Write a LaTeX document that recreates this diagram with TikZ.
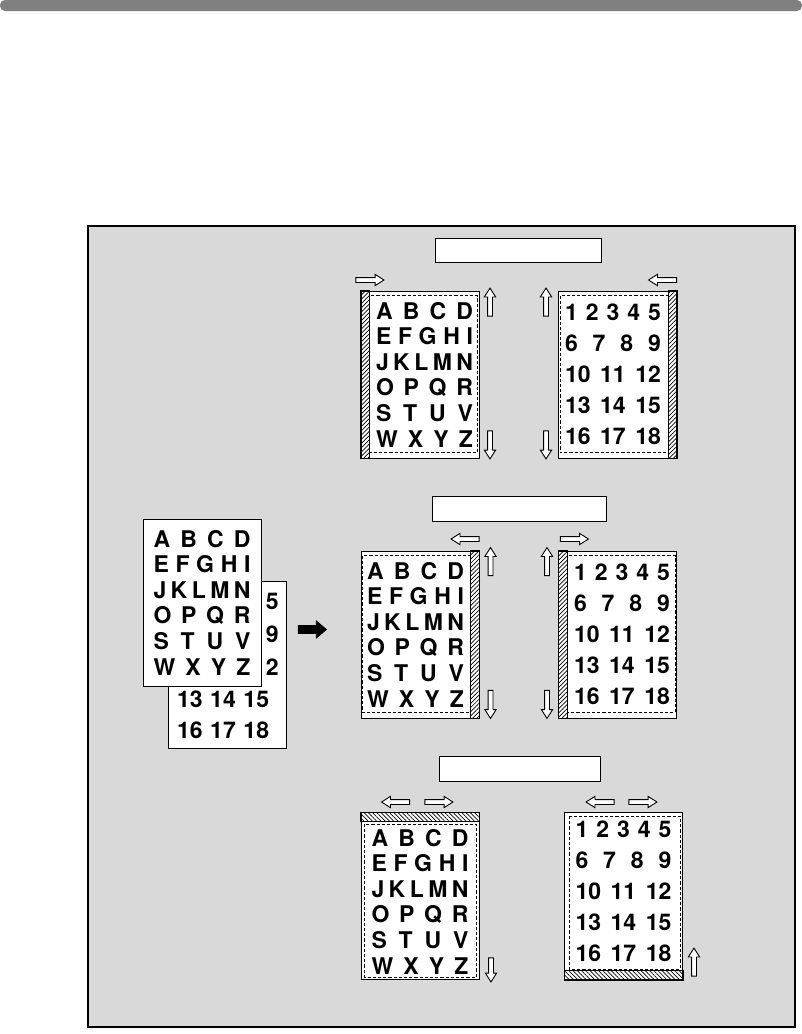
\documentclass[tikz,border=0pt]{standalone}
\usepackage{fontspec}
\setmainfont{TeX Gyre Heros}
\usetikzlibrary{shapes.arrows,patterns.meta}

\newcommand{\abcrows}{%
  \makebox[48.5pt][s]{\bfseries A B C D}\\
  \makebox[48.5pt][s]{\bfseries E F G H I}\\
  \makebox[48.5pt][s]{\bfseries J K L M N}\\
  \makebox[48.5pt][s]{\bfseries O P Q R}\\
  \makebox[48.5pt][s]{\bfseries S T U V}\\
  \makebox[48.5pt][s]{\bfseries W X Y Z}}
\newcommand{\numrows}{%
  \makebox[48pt][s]{\bfseries 1 2 3 4 5}\\
  \makebox[48pt][s]{\bfseries 6 7 8 9}\\
  \makebox[48pt][s]{\bfseries 10 11 12}\\
  \makebox[48pt][s]{\bfseries 13 14 15}\\
  \makebox[48pt][s]{\bfseries 16 17 18}}

\begin{document}
\begin{tikzpicture}[
  x=0.5pt, y=-0.5pt,
  sheet/.style={draw, fill=white, line width=0.5pt, inner sep=0pt,
                minimum width=59pt, minimum height=83.5pt},
  strip/.style={draw, line width=0.4pt,
                pattern={Lines[angle=45, distance=1.5pt, line width=0.35pt]}},
  hstrip/.style={strip,
                pattern={Lines[angle=-45, distance=1.5pt, line width=0.35pt]}},
  margin/.style={dash pattern=on 1.6pt off 1pt, line width=0.4pt},
  letters/.style={font=\fontsize{11.5}{12.8}\selectfont\bfseries, align=center, inner sep=0pt},
  digits/.style={font=\fontsize{11.5}{15.5}\selectfont\bfseries, align=center, inner sep=0pt},
  caption/.style={draw, fill=white, line width=0.5pt, minimum height=12.25pt},
  hollow/.style={single arrow, draw, fill=white, line width=0.45pt,
                 inner xsep=0pt, inner ysep=1pt, single arrow head extend=1.6pt,
                 single arrow tip angle=65, minimum height=14pt},
  goright/.style={hollow},
  goleft/.style={hollow, rotate=180},
  goup/.style={hollow, rotate=90},
  godown/.style={hollow, rotate=270}
]
\useasboundingbox (0,0) rectangle (802,1034);
\fill[black!50, rounded corners=2.5pt] (0,0) rectangle (802,11);
\draw[line width=0.7pt, fill=black!15] (88,226) rectangle (795,1027);

% empty caption boxes
\node[caption, minimum width=83pt] (capA) at (518,250.5) {};
\node[caption, minimum width=87pt] (capB) at (519,509) {};
\node[caption, minimum width=80.5pt] (capC) at (519.5,769) {};

% original pair
\node[sheet] (numO) at (227,664.5) {};
\node[digits, anchor=east] (numO5) at (279,601) {5};
\node[digits, anchor=east] (numO9) at (279,634) {9};
\node[digits, anchor=east] (numO2) at (279,667) {2};
\node[digits, text width=50pt] (numOtxt) at (227,715) {\makebox[50pt][s]{\bfseries 13 14 15}\\\makebox[50pt][s]{\bfseries 16 17 18}};
\node[sheet] (abcO) at (202,602.5) {};
\node[letters] (abcOtxt) at (abcO.center) {\abcrows};
\node[goright, fill=black, inner ysep=1.75pt, single arrow head extend=2.25pt,
      single arrow tip angle=80] (toright) at (310,629.5) {};

% top row: margin on the side
\node[sheet] (abcA) at (420,374.5) {};
\draw[strip] (abcA.north west) rectangle ([xshift=4.5pt]abcA.south west);
\draw[margin] ([xshift=4.5pt,yshift=-2.5pt]abcA.north west) rectangle ([xshift=-1pt,yshift=3pt]abcA.south east);
\node[letters] (abcAtxt) at ([xshift=2.25pt]abcA.center) {\abcrows};
\node[sheet] (numA) at (617.5,374.5) {};
\draw[strip] ([xshift=-4.5pt]numA.north east) rectangle (numA.south east);
\draw[margin] ([xshift=1pt,yshift=-2.5pt]numA.north west) rectangle ([xshift=-4.5pt,yshift=3pt]numA.south east);
\node[digits] (numAtxt) at ([xshift=-2.25pt]numA.center) {\numrows};

\node[goright] (shA1) at (368,280) {};
\node[goup] (shA2) at (490,304) {};
\node[godown] (shA3) at (490,443) {};
\node[goleft] (shA4) at (664.5,280) {};
\node[goup] (shA5) at (546,304) {};
\node[godown] (shA6) at (546,443) {};

% middle row
\node[sheet] (abcB) at (420,634.5) {};
\draw[strip] ([xshift=-4.5pt]abcB.north east) rectangle (abcB.south east);
\draw[margin] ([xshift=1pt,yshift=-2.5pt]abcB.north west) rectangle ([xshift=-4.5pt,yshift=3pt]abcB.south east);
\node[letters] (abcBtxt) at ([xshift=-2.25pt]abcB.center) {\abcrows};
\node[sheet] (numB) at (617.5,634.5) {};
\draw[strip] (numB.north west) rectangle ([xshift=4.5pt]numB.south west);
\draw[margin] ([xshift=4.5pt,yshift=-2.5pt]numB.north west) rectangle ([xshift=-1pt,yshift=3pt]numB.south east);
\node[digits] (numBtxt) at ([xshift=2.25pt]numB.center) {\numrows};

\node[goleft] (shB1) at (467,539) {};
\node[goup] (shB2) at (490.5,563.5) {};
\node[godown] (shB3) at (490.5,702.5) {};
\node[goright] (shB4) at (572.5,539) {};
\node[goup] (shB5) at (547,563.5) {};
\node[godown] (shB6) at (547,702.5) {};

% bottom row: margin at the head / foot
\node[sheet] (abcC) at (420,896) {};
\draw[hstrip] (abcC.north west) rectangle ([yshift=-4.5pt]abcC.north east);
\draw[margin] ([xshift=2pt,yshift=-6pt]abcC.north west) rectangle ([xshift=-1.5pt,yshift=1.5pt]abcC.south east);
\node[letters] (abcCtxt) at ([yshift=-2.75pt]abcC.center) {\abcrows};
\node[sheet] (numC) at (623.5,896) {};
\draw[hstrip] ([yshift=5pt]numC.south west) rectangle (numC.south east);
\draw[margin] ([xshift=2.5pt,yshift=-2pt]numC.north west) rectangle ([xshift=-1.5pt,yshift=5.5pt]numC.south east);
\node[digits] (numCtxt) at ([yshift=2.5pt]numC.center) {\numrows};

\node[goleft] (shC1) at (397.5,802) {};
\node[goright] (shC2) at (437,802) {};
\node[godown, minimum height=12pt] (shC3) at (491,968) {};
\node[goleft] (shC4) at (602,802) {};
\node[goright] (shC5) at (641,802) {};
\node[goup] (shC6) at (694,964) {};
\end{tikzpicture}
\end{document}
